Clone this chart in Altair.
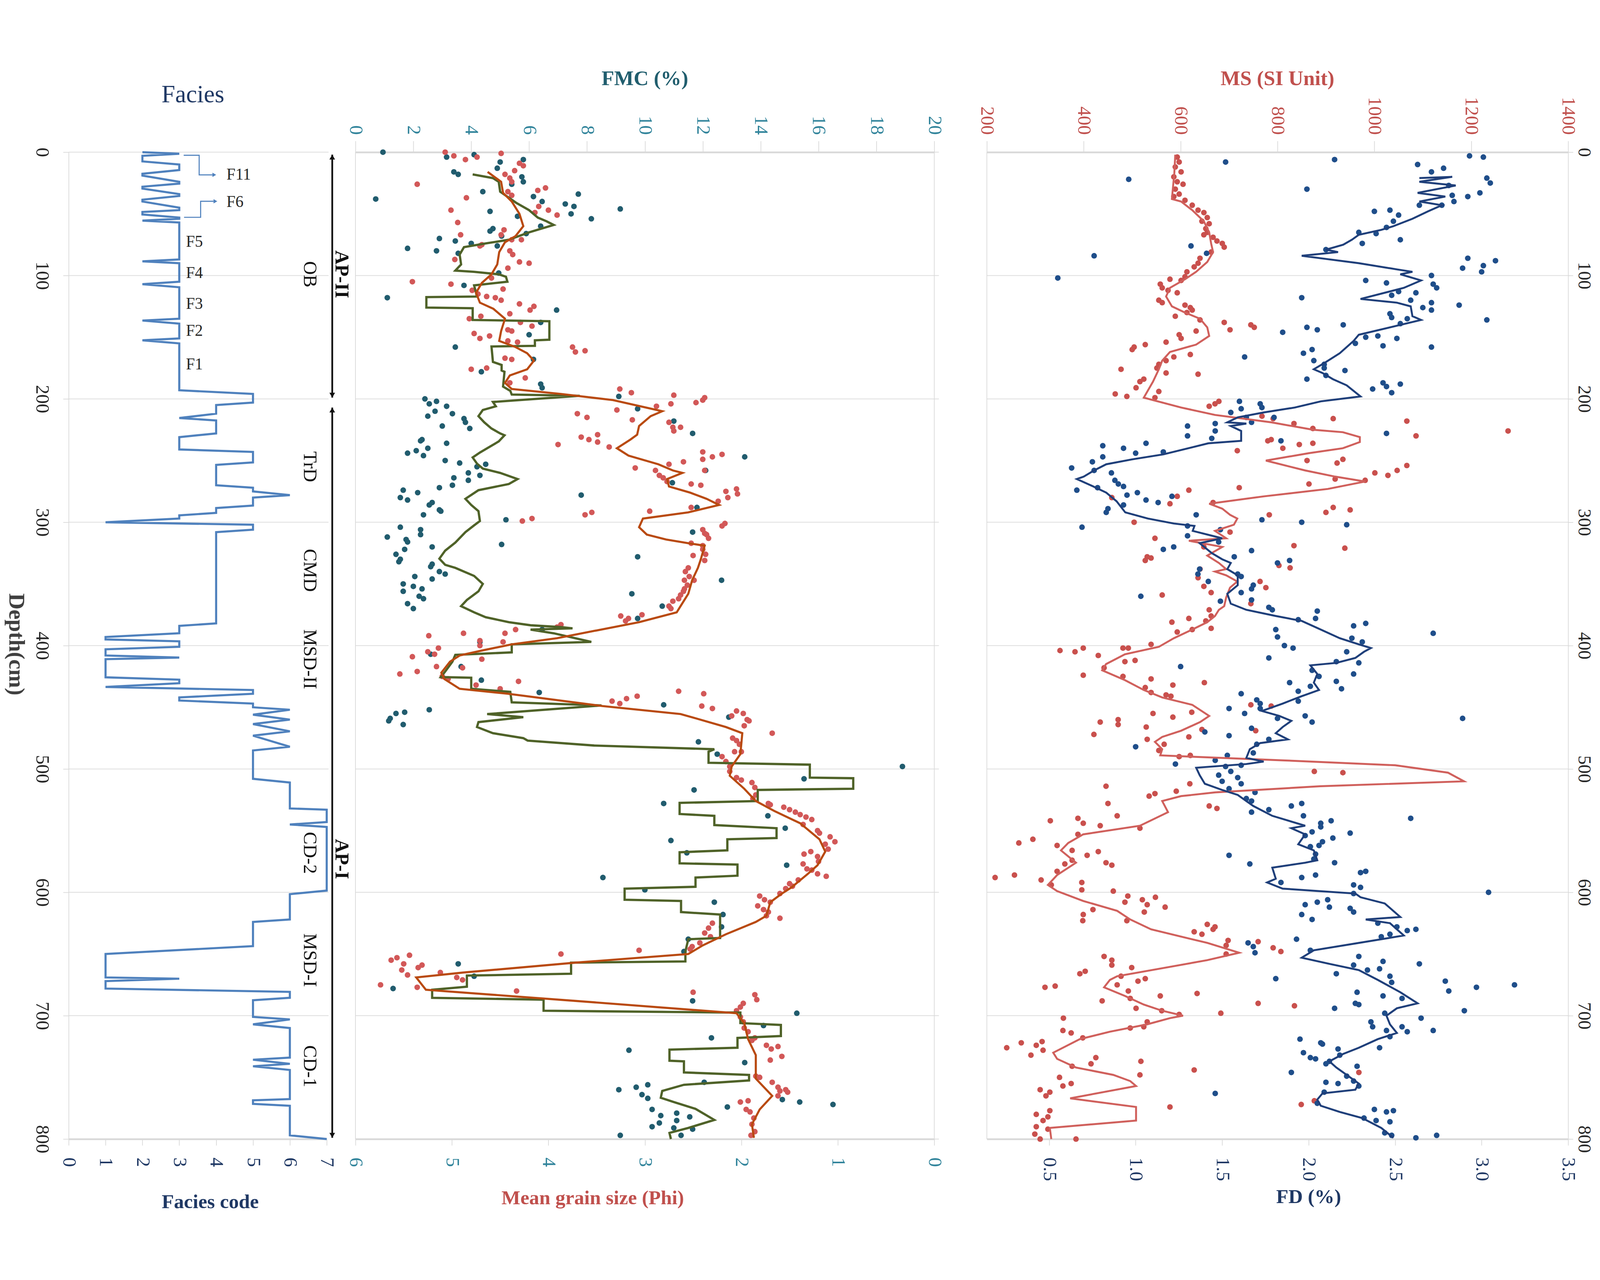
import altair as alt
import pandas as pd

FONT = "Liberation Serif"
GRID = "#D9D9D9"
NAVY = "#1F3864"
TEAL = "#31849B"
TEAL_DARK = "#215E6E"
RED = "#C0504D"

DEPTH_TICKS = list(range(0, 801, 100))
FACIES_TICKS = list(range(0, 8))
FMC_TICKS = list(range(0, 21, 2))
PHI_TICKS = list(range(0, 7))
MS_TICKS = list(range(200, 1401, 200))
FD_TICKS = [0.5, 1.0, 1.5, 2.0, 2.5, 3.0, 3.5]

# ---------------- Facies (depth, code) ----------------
facies_line = [
    (0, 2), (1.3, 3), (3, 2), (7.5, 2), (10, 3), (14.5, 3), (17.5, 2), (19, 2), (24, 3), (25.5, 3),
    (28, 2), (29.5, 2), (34, 3), (35.5, 3), (38.5, 2), (40, 2), (45, 3), (47, 3), (48.5, 2), (50.5, 2),
    (53, 3), (54, 3), (55.5, 2), (57, 3), (87, 3), (88.5, 2), (90, 3), (105, 3), (107, 2), (109.5, 3),
    (135, 3), (136.5, 2), (139, 3), (151, 3), (152.5, 2), (155, 3), (193, 3), (196, 5), (203, 5), (205, 4),
    (212, 4), (215.5, 3), (217.5, 4), (228, 4), (231, 3), (241, 3), (243, 5), (251.5, 5), (253.5, 4), (270, 4),
    (272, 5), (275, 5), (278, 6), (280, 5), (286.5, 5), (288.5, 4), (292.4, 4), (294.4, 3), (297, 3), (300, 1),
    (302, 5), (306, 5), (308, 4), (382, 4), (384, 3), (390, 3), (393, 1), (395, 1), (396.5, 3), (401, 3),
    (403, 1), (408, 1), (409.7, 3), (411, 1), (425.7, 1), (427.6, 3), (430.5, 3), (433.5, 1), (436, 5), (439, 5),
    (442, 3), (444.5, 3), (447, 5), (450, 5), (452, 6), (456, 5), (460, 6), (463.6, 5), (469.5, 6), (473, 5),
    (482, 6), (485, 5), (508, 5), (511, 6), (532, 6), (533, 7), (543, 7), (545, 6), (547, 7), (598.6, 7),
    (601.5, 6), (622, 6), (624, 5), (643.6, 5), (650, 1), (669, 1), (670, 3), (672, 1), (678, 1), (680.7, 6),
    (685.5, 6), (687.5, 5), (701, 5), (703, 6), (707, 5), (710, 6), (734, 6), (735.7, 5), (739, 6), (741, 5),
    (744, 6), (767.6, 6), (768.6, 5), (771.5, 5), (773, 6), (797, 6), (800, 7),
]
unit_labels = [("OB", 99), ("TrD", 255), ("CMD", 339), ("MSD-II", 411), ("CD-2", 568), ("MSD-I", 655), ("CD-1", 741)]
ap_labels = [("AP-II", 99), ("AP-I", 573)]
ap_ranges = [(2, 199), (207, 799)]
f_labels = [("F11", 4.28, 18.4), ("F6", 4.28, 40.5), ("F5", 3.18, 72.7), ("F4", 3.18, 98),
            ("F3", 3.18, 123), ("F2", 3.18, 145), ("F1", 3.18, 172)]
bracket_f11 = [(2.5, 3.12), (2.5, 3.54), (18.4, 3.54), (18.4, 3.9)]
bracket_f6 = [(52.8, 3.13), (52.8, 3.58), (39.8, 3.58), (39.8, 3.93)]

# ---------------- Panel 2 (depth, value) ----------------
fmc_points = [
    (0, 0.95), (4, 3.15), (2, 4.1), (8, 5.0), (13, 4.9), (6, 5.8), (16, 3.4), (18, 3.55), (20, 5.75), (24, 5.8),
    (26, 5.4), (38, 0.7), (32, 4.4), (36, 6.15), (40, 6.45), (42, 7.25), (44, 7.55), (34, 7.7), (50, 7.45), (54, 8.15),
    (46, 9.15), (48, 4.65), (52, 5.6), (60, 6.4), (66, 5.9), (62, 4.75), (64, 4.65), (68, 5.05), (70, 2.9), (72, 3.45),
    (74, 4.0), (78, 1.8), (80, 2.8), (82, 3.55), (76, 4.9), (98, 4.95), (108, 3.75), (118, 1.1), (128, 6.95), (138, 6.4),
    (148, 6.0), (158, 3.45), (168, 6.15), (178, 4.35), (188, 6.4), (191, 6.45), (198, 9.1),
    (200, 2.4), (202, 2.8), (204, 2.55), (206, 3.15), (210, 2.75), (212, 3.35), (214, 2.5), (216, 3.75), (219, 3.8), (222, 3.0),
    (224, 3.95), (233, 2.3), (234, 2.25), (236, 3.15), (240, 2.5), (242, 2.1), (244, 1.8), (246, 2.35), (250, 3.1), (252, 3.6),
    (253, 4.5), (255, 4.2), (260, 3.9), (262, 4.3), (264, 3.4), (266, 3.9), (270, 3.35), (272, 2.9), (274, 1.65), (276, 2.15),
    (280, 1.55), (282, 1.8), (284, 2.65), (286, 2.55), (290, 2.9), (291, 2.95), (294, 2.35), (298, 5.2), (278, 7.8), (318, 5.05),
    (304, 1.55), (312, 1.1), (314, 1.75), (316, 1.8), (322, 1.7), (326, 1.4), (330, 1.55), (332, 1.5), (306, 2.25), (310, 2.25),
    (320, 2.65), (334, 2.65), (336, 2.6), (340, 2.9), (342, 3.1), (346, 2.65), (344, 2.05), (350, 1.65), (356, 1.65), (352, 2.0),
    (354, 2.3), (360, 2.2), (362, 2.35), (366, 1.8), (370, 2.0), (328, 9.75), (358, 9.55), (368, 10.6), (347, 12.65), (288, 11.8),
    (308, 11.65), (258, 12.1), (228, 11.65), (268, 10.95), (218, 11.0), (247, 13.45), (378, 9.75), (208, 9.75), (397, 4.3), (387, 6.45),
    (407, 2.6), (417, 3.65), (428, 4.35), (438, 6.35), (461, 1.15), (459, 1.2), (455, 1.4), (454, 1.7), (464, 1.65), (452, 2.55),
    (448, 10.65), (458, 12.9), (478, 11.85), (488, 12.5), (498, 18.9), (508, 15.5), (517, 11.7), (528, 10.65), (538, 14.25), (548, 14.85),
    (558, 10.9), (568, 11.45), (578, 14.9), (588, 8.55), (598, 10.0), (608, 12.4), (618, 12.7), (628, 12.65), (638, 11.5), (648, 11.35),
    (658, 3.55), (668, 4.1), (678, 1.3), (688, 11.65), (698, 15.25), (708, 14.1), (718, 12.3), (728, 9.45), (738, 13.45), (754, 12.05),
    (760, 9.1), (758, 9.7), (756, 10.1), (764, 9.9), (767, 10.1), (768, 14.75), (770, 15.35), (772, 16.5), (774, 12.85), (776, 10.25),
    (781, 10.55), (787, 10.5), (779, 11.1), (785, 11.1), (782, 11.55), (791, 11.0), (792, 11.65), (790, 10.25), (797, 9.15), (797, 11.25),
]
grain_points = [
    (0, 5.07), (3, 4.98), (6, 4.86), (4, 4.74), (1, 4.49), (9, 4.30), (11, 4.26), (15, 4.35), (18, 4.45), (21, 4.40),
    (24, 4.38), (32, 4.42), (35, 4.38), (26, 5.36), (37, 4.85), (47, 5.01), (31, 4.11), (29, 4.03), (44, 4.10), (49, 4.14),
    (47, 4.0), (51, 3.91), (57, 4.94), (67, 4.91), (63, 4.46), (67, 4.49), (71, 4.38), (71, 4.28), (75, 4.69), (76, 4.71),
    (80, 4.40), (83, 4.37), (87, 4.97), (89, 4.30), (90, 4.20), (94, 4.42), (102, 4.59), (111, 4.47), (105, 5.41), (107, 5.01),
    (112, 4.79), (115, 4.73), (117, 4.64), (118, 4.55), (120, 4.49), (123, 4.30), (125, 4.15), (128, 4.19), (131, 4.40), (133, 4.70),
    (135, 4.82), (138, 4.29), (141, 4.17), (144, 4.42), (145, 4.38), (147, 4.77), (151, 4.71), (149, 4.61), (153, 4.42), (154, 4.32),
    (158, 3.75), (162, 3.72), (161, 3.62), (167, 4.45), (168, 4.38), (176, 4.80), (175, 4.64), (183, 4.24), (187, 4.40),
    (192, 3.26), (195, 3.14), (197, 2.70), (199, 2.38), (201, 2.40), (203, 2.47), (206, 2.88), (204, 2.73), (212, 3.70), (215, 3.60),
    (209, 3.29), (217, 3.13), (219, 2.75), (223, 2.71), (223, 2.63), (226, 2.70), (231, 3.66), (233, 3.58), (229, 3.49), (235, 3.49),
    (239, 3.37), (237, 3.90), (243, 2.40), (247, 2.30), (245, 2.20), (249, 2.40), (251, 2.60), (256, 3.10), (258, 2.89), (262, 2.85),
    (264, 2.81), (267, 2.77), (253, 2.75), (258, 2.38), (269, 2.52), (270, 2.42), (273, 2.05), (275, 2.16), (277, 2.04), (280, 2.14),
    (283, 2.24), (291, 2.95), (294, 3.62), (292, 3.55), (299, 4.27), (297, 4.17), (288, 2.52), (306, 2.40), (309, 2.38), (310, 2.36),
    (313, 2.34), (303, 2.20), (301, 2.17), (317, 2.52), (319, 2.40), (322, 2.40), (326, 2.37), (327, 2.50), (331, 2.38), (337, 2.55),
    (340, 2.58), (344, 2.54), (347, 2.49), (347, 2.59), (351, 2.56), (354, 2.59), (356, 2.60), (359, 2.63), (362, 2.65), (364, 2.71),
    (368, 2.75), (370, 2.73), (376, 3.25), (378, 3.17), (380, 3.20), (375, 3.03), (385, 3.91), (383, 3.87), (387, 4.34), (390, 4.45),
    (390, 4.88), (392, 5.24), (396, 4.71), (397, 4.47),
    (400, 4.71), (409, 5.41), (405, 5.25), (402, 5.14), (407, 5.18), (423, 5.54), (421, 5.36), (417, 5.16), (418, 4.89), (425, 5.10),
    (427, 5.04), (411, 4.69), (429, 4.31), (435, 4.50), (432, 4.75), (445, 3.34), (447, 3.26), (443, 3.19), (441, 3.08), (437, 2.65),
    (439, 2.39), (449, 2.41), (451, 2.30), (453, 2.05), (455, 1.98), (460, 1.94), (465, 1.97), (457, 2.10), (461, 1.92), (471, 1.68),
    (475, 2.09), (477, 2.05), (480, 2.02), (486, 2.0), (486, 2.07), (490, 2.20), (494, 2.16), (498, 2.12), (502, 2.12), (507, 2.05),
    (509, 2.0), (511, 1.89), (515, 1.86), (521, 1.85), (524, 1.88), (528, 1.72), (529, 1.70), (531, 1.56), (533, 1.50), (535, 1.44),
    (537, 1.39), (539, 1.33), (541, 1.27), (545, 1.36), (550, 1.21), (552, 1.19), (555, 1.08), (559, 1.03), (561, 1.13), (565, 1.10),
    (569, 1.35), (567, 1.28), (571, 1.21), (575, 1.20), (577, 1.36), (581, 1.32), (582, 1.27), (585, 1.21), (587, 1.12), (593, 1.50),
    (595, 1.47), (597, 1.54), (601, 1.60), (590, 1.41), (603, 1.81), (606, 1.76), (608, 1.70), (611, 1.83), (614, 1.77), (616, 1.72),
    (619, 1.74), (621, 1.60), (625, 2.30), (629, 2.34), (633, 2.38), (636, 2.32), (641, 2.43), (644, 2.51), (646, 2.53), (647, 3.06),
    (650, 3.87), (655, 5.63), (653, 5.57), (651, 5.44), (658, 5.50), (661, 5.35), (659, 5.31), (663, 5.52), (667, 5.46), (665, 5.12),
    (669, 4.95), (671, 4.89), (675, 5.74), (677, 5.36), (680, 4.33), (681, 2.50), (683, 1.86), (687, 1.84), (690, 1.98), (693, 2.01),
    (696, 2.05), (701, 2.01), (705, 1.98), (710, 1.97), (713, 1.93), (720, 1.89), (718, 1.86), (724, 1.74), (727, 1.69), (725, 1.62),
    (733, 1.58), (736, 1.70), (749, 1.85), (750, 1.81), (754, 1.68), (758, 1.62), (761, 1.60), (760, 1.54), (762, 1.52), (765, 1.62),
    (770, 2.01), (769, 1.93), (776, 1.95), (778, 1.91), (783, 1.87), (788, 1.89), (794, 1.86), (797, 1.90),
]
fmc_line = [
    (18, 4.05), (21, 4.75), (24, 4.95), (32, 5.0), (41, 5.55), (47, 6.0), (53, 6.3), (56, 6.6), (59, 6.85), (65, 6.0),
    (71, 5.3), (74, 4.5), (77, 3.75), (83, 3.6), (91, 3.65), (96, 3.45), (97, 4.1), (99, 4.95), (101, 5.2), (105, 5.25),
    (108, 4.1), (117, 4.2), (117.5, 2.45), (126, 2.45), (126.5, 4.05), (136, 4.05), (137, 6.7), (152, 6.7), (152.5, 6.2), (157, 6.2),
    (157.5, 4.7), (170, 4.75), (172.5, 5.05), (177, 5.05), (178, 5.15), (190, 5.1), (193.5, 5.35), (196.5, 5.4), (197.5, 7.75), (202.5, 4.75),
    (206, 4.85), (209, 4.4), (214, 4.25), (219, 4.45), (224, 4.7), (228, 5.0), (229.5, 5.15), (234.5, 4.95), (240, 4.55), (243.5, 4.3),
    (247.5, 4.05), (252.5, 4.2), (256.5, 4.4), (260, 5.0), (265, 5.6), (269, 5.3), (274, 4.25), (281, 3.8), (286, 4.0), (291, 4.25),
    (299, 4.3), (302.5, 4.1), (308, 3.8), (316.5, 3.45), (323, 3.1), (329.5, 2.9), (334.5, 3.1), (337, 3.45), (343.5, 4.1), (350, 4.4),
    (356, 4.25), (363, 3.85), (368, 3.65), (373, 4.1), (377, 4.5), (381, 5.3), (383.5, 6.05), (385, 7.1), (386, 7.5), (387, 6.05),
    (390, 6.85), (397, 8.15), (399, 5.4), (405.5, 5.4), (407.5, 3.45), (413, 3.35), (421, 3.1), (425.5, 2.95), (426, 4.0), (435, 4.0),
    (437.5, 5.35), (446, 5.4), (448.5, 8.5), (455.5, 4.55), (458, 5.8), (462, 4.25), (466, 4.2), (471, 4.75), (475, 5.8), (477, 5.95),
    (481, 8.25), (484, 12.4), (486, 12.2), (495, 12.2), (496.5, 15.7), (507, 15.7), (507.5, 17.2), (516, 17.2), (517, 13.9), (526, 13.9),
    (527.5, 11.2), (536.5, 11.2), (538, 12.4), (545.5, 12.4), (548, 14.55), (556, 14.55), (557, 12.85), (566, 12.85), (567.5, 11.2), (576.5, 11.2),
    (577.5, 13.2), (586.5, 13.2), (588, 11.75), (595.5, 11.75), (597, 9.3), (606, 9.3), (607, 11.25), (616, 11.25), (618, 12.6), (637, 12.6),
    (638, 11.5), (648, 11.4), (656, 11.4), (657, 7.45), (666, 7.45), (667.5, 3.85), (676.5, 3.85), (679, 2.65), (685.5, 2.65), (687, 6.5),
    (696, 6.5), (697.5, 13.3), (706, 13.3), (707.5, 14.7), (716.5, 14.7), (718, 13.2), (726, 13.2), (727.5, 10.85), (736.5, 10.85), (737, 11.35),
    (746, 11.35), (748, 13.6), (752.5, 13.6), (756, 11.35), (761, 10.6), (766.5, 10.55), (770, 11.0), (775.5, 11.75), (784.5, 12.4), (791, 11.5),
    (795, 10.85), (800, 10.9),
]
grain_line = [
    (16, 4.63), (24, 4.49), (33, 4.47), (40, 4.38), (50, 4.30), (60, 4.26), (68, 4.34), (73, 4.45), (81, 4.51), (91, 4.53),
    (99, 4.59), (106, 4.69), (114, 4.75), (122, 4.71), (127, 4.57), (135, 4.45), (145, 4.49), (153, 4.51), (158, 4.34), (163, 4.22),
    (169, 4.15), (176, 4.22), (181, 4.40), (187, 4.45), (192, 4.38), (196, 3.87), (201, 3.33), (210, 2.82), (214, 2.94), (222, 3.06),
    (229, 3.08), (233, 3.15), (240, 3.29), (246, 3.17), (253, 2.86), (258, 2.71), (260, 2.61), (265, 2.77), (271, 2.75), (276, 2.53),
    (281, 2.36), (286, 2.23), (292, 2.55), (297, 3.02), (304, 3.06), (310, 2.98), (314, 2.78), (317, 2.55), (319, 2.38), (330, 2.42),
    (337, 2.45), (347, 2.51), (358, 2.55), (368, 2.63), (373, 2.67), (381, 3.06), (388, 3.52), (394, 3.91), (399, 4.38), (404, 4.69),
    (408, 4.92), (413, 5.02), (422, 5.11), (427, 5.08), (435, 4.92), (439, 4.42), (449, 3.44), (455.5, 2.63), (459, 2.47), (466, 2.16),
    (471, 1.99), (488, 2.01), (498, 2.10), (505.5, 2.12), (516, 1.97), (526, 1.85), (534, 1.66), (544, 1.39), (557, 1.19), (567, 1.13),
    (578, 1.21), (585, 1.31), (596, 1.48), (601, 1.58), (608, 1.70), (619, 1.74), (624, 1.85), (634, 2.16), (643, 2.40), (650, 2.55),
    (657, 3.72), (665, 4.88), (669, 5.37), (675, 5.31), (679, 5.27), (688, 3.72), (698, 2.05), (706, 1.97), (719, 1.93), (732, 1.85),
    (751, 1.85), (765, 1.68), (776, 1.81), (788, 1.89), (799, 1.87),
]

# ---------------- Panel 3 (depth, value) ----------------
ms_points = [
    (4, 593), (8, 597), (12, 589), (16, 601), (20, 586), (24, 593), (26, 605), (30, 589), (34, 597), (36, 586),
    (39, 609), (43, 624), (47, 636), (49, 648), (53, 655), (56, 644), (58, 659), (62, 652), (65, 655), (67, 648),
    (69, 667), (72, 675), (74, 686), (77, 690), (81, 663), (86, 640), (90, 636), (93, 628), (97, 613), (101, 609),
    (104, 601), (103, 578), (107, 558), (110, 562), (112, 574), (114, 593), (120, 555), (122, 562), (124, 609), (126, 620),
    (128, 624), (130, 613), (133, 589), (136, 640), (138, 690), (144, 702), (140, 745), (142, 752), (145, 632), (148, 597),
    (151, 601), (154, 570), (156, 527), (158, 504), (160, 500), (164, 620), (166, 586), (169, 570), (172, 555), (175, 551),
    (179, 570), (180, 636), (176, 477), (184, 524), (186, 516), (191, 508), (194, 555), (196, 465), (198, 489), (199, 547),
    (206, 659), (202, 679), (204, 671), (214, 768), (216, 791), (220, 834), (224, 873), (216, 915), (218, 1067), (230, 1086),
    (226, 1276), (234, 780), (233, 787), (240, 811), (237, 845), (236, 873), (242, 717), (250, 861), (252, 923), (249, 935),
    (265, 919), (269, 865), (260, 1001), (262, 1028), (258, 1047), (254, 1067), (266, 981), (272, 721), (274, 617), (279, 593),
    (280, 458), (285, 578), (284, 667), (294, 783), (292, 900), (288, 915), (290, 950), (300, 504), (308, 702), (313, 547),
    (320, 648), (319, 834), (321, 939), (328, 531), (329, 539), (331, 527), (335, 803), (337, 826), (338, 640), (345, 636),
    (352, 648), (357, 663), (359, 562), (348, 764), (353, 776), (366, 745), (371, 659), (376, 663), (380, 652), (378, 617),
    (381, 582), (387, 624), (389, 593), (386, 663), (399, 539),
    (402, 399), (402, 492), (404, 351), (405, 382), (408, 430), (402, 481), (413, 485), (412, 506), (418, 442), (424, 399),
    (425, 481), (427, 539), (432, 584), (430, 649), (434, 527), (438, 539), (440, 570), (441, 580), (448, 745), (449, 787),
    (455, 543), (458, 584), (454, 623), (462, 434), (460, 471), (464, 471), (466, 529), (472, 421), (468, 644), (469, 755),
    (474, 617), (476, 531), (480, 566), (485, 555), (490, 597), (489, 620), (502, 876), (503, 935), (512, 619), (514, 446),
    (522, 535), (520, 547), (518, 591), (528, 450), (538, 469), (530, 659), (532, 675), (542, 331), (540, 388), (544, 399),
    (546, 434), (548, 516), (553, 388), (560, 266), (557, 295), (562, 345), (566, 376), (570, 407), (567, 430), (576, 446),
    (578, 458), (574, 376), (577, 361), (583, 345), (588, 217), (586, 257), (590, 312), (594, 333), (592, 396), (598, 396),
    (599, 461), (603, 491), (606, 521), (604, 548), (608, 485), (610, 531), (612, 568), (614, 419), (616, 525), (618, 399),
    (623, 398), (623, 489), (632, 628), (626, 655), (628, 671), (634, 644), (630, 667), (639, 698), (643, 694), (640, 760),
    (645, 791), (648, 807), (650, 694), (652, 442), (655, 458), (659, 458), (661, 499), (664, 403), (666, 392), (668, 477),
    (670, 527), (672, 512), (677, 320), (676, 341), (675, 469), (680, 492), (684, 558), (682, 634), (688, 438), (686, 496),
    (694, 508), (696, 561), (690, 760), (692, 835), (698, 683), (699, 597), (702, 358), (705, 531), (709, 524), (710, 496),
    (712, 357), (714, 374), (718, 398), (726, 241), (722, 271), (724, 302), (721, 314), (732, 291), (728, 316), (734, 425),
    (739, 415), (737, 518), (741, 376), (755, 374), (750, 350), (757, 357), (748, 516), (744, 628), (746, 968), (760, 310),
    (762, 330), (765, 322), (774, 578), (780, 302), (777, 330), (782, 326), (785, 316), (790, 302), (792, 326), (796, 299),
    (800, 310), (800, 384), (772, 849), (769, 876),
]
ms_line = [
    (2, 589), (17, 587), (38, 582), (40, 601), (47, 624), (56, 648), (65, 659), (74, 663), (81, 667), (89, 655),
    (97, 632), (103, 609), (110, 578), (117, 570), (125, 582), (130, 609), (135, 640), (142, 655), (149, 659), (156, 632),
    (162, 578), (169, 562), (176, 555), (186, 543), (199, 524), (207, 601), (213, 671), (219, 787), (225, 873), (227, 935),
    (231, 970), (235, 970), (240, 935), (244, 865), (250, 776), (258, 857), (263, 919), (267, 981), (273, 904), (279, 772),
    (285, 659), (289, 686), (294, 702), (297, 717), (302, 710), (307, 671), (313, 694), (315, 617), (320, 686), (327, 655),
    (333, 679), (338, 694), (340, 671), (343, 694), (348, 717), (353, 702), (361, 694), (368, 690), (371, 679), (376, 671),
    (381, 655), (387, 624), (394, 586), (401, 555), (407, 485), (415, 446), (420, 438), (428, 485), (436, 524), (442, 562),
    (448, 624), (457, 659), (462, 640), (469, 601), (474, 562), (478, 547), (484, 562), (489, 558), (493, 811), (497, 1043),
    (503, 1152), (510, 1185), (514, 888), (519, 671), (522, 601), (526, 562), (535, 574), (546, 516), (553, 399), (560, 368),
    (566, 353), (576, 384), (586, 345), (594, 326), (599, 345), (607, 399), (615, 469), (622, 496), (630, 539), (641, 655),
    (649, 721), (655, 655), (662, 555), (668, 469), (671, 454), (677, 442), (684, 485), (691, 524), (696, 562), (700, 605),
    (702, 578), (707, 531), (713, 454), (719, 392), (730, 337), (735, 345), (742, 384), (748, 461), (753, 496), (757, 508),
    (767, 372), (774, 508), (785, 508), (791, 330), (800, 333),
]
fd_points = [
    (8, 1.52), (6, 2.15), (22, 0.96), (30, 1.99), (10, 2.63), (16, 2.71), (13, 2.78), (3, 2.93), (4, 3.01), (21, 3.03),
    (25, 3.05), (27, 2.81), (35, 2.83), (40, 2.84), (43, 2.77), (36, 2.92), (33, 2.99), (43, 2.64), (48, 2.38), (47, 2.47),
    (51, 2.52), (56, 2.49), (61, 2.45), (65, 2.29), (66, 2.39), (71, 2.53), (74, 2.31), (79, 2.10), (76, 1.32), (82, 1.41),
    (84, 0.76), (86, 2.92), (92, 3.01), (97, 3.0), (88, 3.08), (94, 2.89), (100, 2.71), (102, 0.55), (104, 2.33), (106, 2.45),
    (107, 2.72), (110, 2.74), (113, 2.52), (116, 2.48), (114, 2.62), (118, 1.96), (120, 2.59), (122, 2.71), (126, 2.66), (128, 2.71),
    (124, 2.87), (131, 2.47), (134, 2.48), (135, 2.57), (139, 2.53), (136, 3.03), (140, 2.20), (142, 1.99), (144, 2.05), (146, 1.85),
    (150, 2.33), (149, 2.40), (151, 2.51), (155, 2.27), (157, 2.43), (158, 2.71), (160, 2.02), (163, 1.97), (169, 2.03), (166, 1.63),
    (172, 2.09), (175, 2.09), (177, 2.21), (181, 2.10), (184, 1.99), (192, 2.37), (187, 2.43), (190, 2.45), (195, 2.48), (188, 2.53),
    (202, 1.60), (208, 1.61), (204, 1.72), (207, 1.73), (211, 1.55), (215, 1.64), (219, 1.67), (215, 1.80), (220, 1.46), (222, 1.30),
    (230, 1.30), (226, 1.46), (232, 1.44), (234, 1.84), (228, 2.45), (236, 1.06), (243, 1.16), (244, 1.0), (240, 0.93), (238, 0.81),
    (247, 0.81), (251, 0.75), (256, 0.63), (258, 0.76), (260, 0.86), (266, 0.88), (269, 0.90), (271, 0.93), (274, 0.66), (272, 0.78),
    (278, 0.95), (276, 1.01), (282, 1.06), (284, 1.13), (279, 1.21), (286, 0.93), (289, 0.84), (292, 0.83), (304, 0.69), (294, 1.35),
    (298, 1.73), (300, 1.96), (302, 2.22), (303, 1.30), (311, 1.30), (306, 1.49), (316, 1.48), (322, 1.16), (320, 1.22), (323, 1.67),
    (328, 1.57), (333, 1.82), (331, 1.89), (338, 1.37), (342, 1.36), (342, 1.59), (344, 1.61), (351, 1.68), (354, 1.67), (357, 1.61),
    (348, 1.42), (360, 1.03), (364, 1.49), (363, 1.67), (369, 1.77), (371, 1.79), (372, 2.05), (378, 2.04), (379, 1.94), (384, 2.26),
    (382, 2.33), (387, 1.81), (393, 1.82), (390, 2.72), (394, 2.25), (397, 2.31),
    (400, 1.86), (402, 1.91), (405, 2.22), (410, 1.77), (413, 2.16), (414, 2.29), (417, 1.26), (420, 2.02), (425, 2.06), (423, 2.26),
    (430, 1.89), (429, 2.16), (435, 2.19), (437, 1.94), (433, 2.01), (439, 1.61), (444, 1.70), (451, 1.54), (455, 1.63), (451, 1.72),
    (447, 1.72), (445, 1.94), (457, 1.98), (462, 2.02), (459, 1.82), (467, 1.67), (470, 1.40), (473, 1.54), (476, 1.77), (480, 1.70),
    (482, 1.0), (487, 1.68), (489, 1.53), (493, 1.46), (498, 1.52), (496, 1.23), (497, 1.61), (505, 1.48), (502, 1.55), (510, 1.50),
    (507, 1.59), (512, 1.61), (516, 1.54), (519, 1.69), (524, 1.64), (526, 1.67), (533, 1.77), (535, 1.67), (530, 1.90), (528, 1.96),
    (459, 2.89), (540, 2.59), (538, 1.97), (544, 2.07), (542, 2.13), (547, 2.07), (551, 2.02), (552, 2.24), (554, 1.98), (556, 2.14),
    (559, 2.08), (562, 2.06), (563, 2.01), (569, 2.04), (573, 2.03), (570, 1.54), (577, 1.66), (576, 2.15), (586, 2.04), (588, 1.96),
    (592, 1.84), (583, 2.33), (584, 2.30), (594, 2.26), (596, 2.30), (601, 2.26), (600, 3.04), (610, 1.98), (608, 2.05), (606, 2.11),
    (612, 2.12), (618, 1.96), (622, 2.02), (613, 2.24), (616, 2.26), (625, 2.40), (628, 2.51), (631, 2.57), (630, 2.62), (634, 2.47),
    (636, 2.42), (641, 1.65), (644, 1.68), (649, 1.69), (638, 1.93), (647, 2.01), (652, 2.29), (659, 2.26), (656, 2.43), (663, 2.34),
    (662, 2.41), (658, 2.64), (666, 2.16), (668, 2.47), (673, 2.48), (670, 1.81), (672, 2.79), (680, 2.81), (677, 2.97), (675, 3.19),
    (681, 2.28), (684, 2.43), (686, 2.54), (690, 2.27), (691, 2.29), (694, 2.15), (696, 2.90), (698, 2.44), (702, 2.65), (705, 2.36),
    (709, 2.37), (712, 2.45), (709, 2.54), (713, 2.57), (712, 2.72), (717, 2.47), (719, 1.95), (722, 2.07), (723, 2.08), (726, 2.41),
    (730, 1.97), (734, 2.01), (735, 2.04), (737, 2.12), (727, 2.17), (732, 2.18), (739, 2.10), (741, 2.28), (746, 1.90), (749, 2.22),
    (753, 2.26), (757, 2.29), (754, 2.10), (755, 2.17), (762, 2.09), (763, 1.46), (771, 2.05), (776, 2.38), (778, 2.45), (777, 2.49),
    (783, 2.32), (785, 2.39), (786, 2.47), (795, 2.44), (797, 2.48), (799, 2.62), (797, 2.74),
]
fd_line = [
    (21, 2.64), (20, 2.83), (24, 2.64), (27, 2.85), (33, 2.63), (36, 2.79), (40, 2.64), (43, 2.77), (48, 2.69), (54, 2.60),
    (60, 2.49), (63, 2.42), (67, 2.29), (71, 2.25), (75, 2.20), (79, 2.10), (81, 2.17), (84, 1.96), (86, 2.07), (90, 2.29),
    (95, 2.51), (97, 2.60), (99, 2.53), (104, 2.65), (110, 2.55), (119, 2.30), (122, 2.51), (125, 2.59), (133, 2.60), (136, 2.65),
    (142, 2.47), (148, 2.29), (153, 2.26), (163, 2.18), (171, 2.09), (176, 2.03), (179, 2.08), (184, 2.14), (189, 2.22), (198, 2.30),
    (202, 2.07), (207, 1.92), (211, 1.74), (215, 1.59), (219, 1.53), (220, 1.64), (222, 1.55), (226, 1.61), (234, 1.61), (236, 1.42),
    (245, 1.16), (249, 0.98), (253, 0.83), (258, 0.76), (263, 0.70), (265, 0.66), (270, 0.74), (276, 0.83), (283, 0.89), (292, 0.94),
    (297, 1.07), (301, 1.22), (303, 1.34), (307, 1.33), (313, 1.50), (317, 1.37), (325, 1.44), (330, 1.50), (333, 1.55), (338, 1.53),
    (343, 1.59), (351, 1.59), (358, 1.53), (366, 1.55), (371, 1.64), (376, 1.81), (380, 1.96), (387, 2.07), (394, 2.18), (399, 2.29),
    (402, 2.36), (405, 2.32), (410, 2.27), (414, 2.16), (416, 2.01), (423, 2.05), (430, 2.03), (436, 2.06), (441, 1.96), (447, 1.85),
    (453, 1.73), (457, 1.83), (461, 1.90), (466, 1.85), (471, 1.81), (476, 1.88), (479, 1.72), (484, 1.66), (491, 1.64), (494, 1.74),
    (496, 1.64), (499, 1.35), (505, 1.37), (512, 1.40), (517, 1.50), (521, 1.59), (530, 1.68), (538, 1.79), (546, 1.98), (548, 1.90),
    (553, 1.98), (561, 1.94), (566, 2.03), (574, 2.05), (576, 1.98), (580, 1.79), (589, 1.81), (592, 1.76), (597, 1.85), (601, 2.27),
    (604, 2.30), (609, 2.44), (620, 2.53), (622, 2.33), (625, 2.47), (635, 2.55), (641, 2.29), (647, 2.03), (653, 1.96), (658, 2.12),
    (663, 2.29), (671, 2.40), (681, 2.53), (690, 2.63), (694, 2.51), (700, 2.45), (707, 2.47), (714, 2.51), (719, 2.40), (726, 2.29),
    (731, 2.20), (737, 2.12), (742, 2.16), (748, 2.22), (755, 2.29), (760, 2.27), (763, 2.08), (768, 2.05), (773, 2.07), (778, 2.18),
    (783, 2.31), (791, 2.42), (799, 2.49),
]

# Titles: (text, x value in its panel scale, depth position, size, weight, colour, angle)
facies_titles = [("Facies", 3.37, -40.3, 70, "normal", NAVY, 0),
                 ("Facies code", 3.84, 856, 57, "bold", NAVY, 0),
                 ("Depth(cm)", -1.43, 399, 64, "bold", "#404040", 90)]
fmc_titles = [("FMC (%)", 10.0, -54.5, 59, "bold", TEAL_DARK, 0)]
phi_titles = [("Mean  grain size (Phi)", 3.54, 853, 57, "bold", RED, 0)]
ms_titles = [("MS (SI Unit)", 800, -54.5, 59, "bold", RED, 0)]
fd_titles = [("FD (%)", 2.0, 852, 57, "bold", NAVY, 0)]

# ---------------- layout ----------------
H = 2816
W = 4277
R1 = [0, 736]        # facies panel
R2 = [818, 2469]     # FMC / grain size panel
R3 = [2619, 4277]    # MS / FD panel
PT = 260


def frame(pairs, vname="v"):
    df = pd.DataFrame(pairs, columns=["depth", vname])
    df["i"] = range(len(df))
    return df


depth_scale = alt.Scale(domain=[0, 800], reverse=True, nice=False, zero=False)
common_label = dict(labelFont=FONT, labelFontSize=54, labelFlush=False, labelOverlap=False, labelAngle=90)

Y_NONE = alt.Y("depth:Q", scale=depth_scale, axis=None)
Y_LEFT = alt.Y("depth:Q", scale=depth_scale, axis=alt.Axis(
    orient="left", values=DEPTH_TICKS, grid=False, ticks=True, tickSize=16, tickColor=GRID, tickWidth=2,
    domain=True, domainColor=GRID, domainWidth=2, labelAlign="center", labelBaseline="top", labelPadding=34,
    labelColor="#262626", title=None, **common_label))
Y_RIGHT = alt.Y("depth:Q", scale=depth_scale, axis=alt.Axis(
    orient="right", values=DEPTH_TICKS, grid=False, ticks=True, tickSize=14, tickColor=GRID, tickWidth=2,
    domain=True, domainColor=GRID, domainWidth=2, labelAlign="center", labelBaseline="bottom", labelPadding=4,
    labelColor="#262626", title=None, labelFont=FONT, labelFontSize=52, labelFlush=False, labelOverlap=False,
    labelAngle=90))


def x_axis(orient, values, label_color, fmt=None):
    top = orient == "top"
    kw = dict(orient=orient, values=values, grid=False, ticks=True, tickSize=32 if top else 18, tickColor=GRID,
              tickWidth=2, domain=True, domainColor=GRID, domainWidth=5, labelColor=label_color,
              labelPadding=18 if top else 34, labelAlign="right" if top else "left", labelBaseline="middle",
              title=None, **common_label)
    if fmt:
        kw["format"] = fmt
    return alt.Axis(**kw)


def X(field, domain, rng, axis=None):
    return alt.X(field, scale=alt.Scale(domain=domain, range=rng, nice=False, zero=False), axis=axis)


def titles(rows, x_enc, y_enc, vname):
    out = []
    for t, xv, d, size, weight, color, ang in rows:
        df = pd.DataFrame({vname: [xv], "depth": [d], "t": [t]})
        out.append(alt.Chart(df).mark_text(font=FONT, fontSize=size, fontWeight=weight, color=color, angle=ang,
                                           align="center", baseline="middle" if ang else "alphabetic").encode(
            x=x_enc, y=y_enc, text="t:N"))
    return out


def grid_rules(x_enc, lo, hi, vname, depths):
    df = pd.DataFrame({"depth": depths, vname: lo, vname + "2": hi})
    return alt.Chart(df).mark_rule(color=GRID, strokeWidth=2).encode(x=x_enc, x2=f"{vname}2:Q", y=Y_NONE)


def border_rules(x_enc, vals, vname):
    df = pd.DataFrame({vname: vals, "depth": 0, "depth2": 800})
    return alt.Chart(df).mark_rule(color=GRID, strokeWidth=2).encode(x=x_enc, y=Y_NONE, y2="depth2:Q")


# ---------------- Panel 1: facies ----------------
x1 = X("code:Q", [0, 7], R1, x_axis("bottom", FACIES_TICKS, NAVY))
fac = alt.Chart(frame(facies_line, "code")).mark_line(color="#4F81BD", strokeWidth=6).encode(
    x=x1, y=Y_LEFT, order="i:Q")

units_df = pd.DataFrame({"t": [u[0] for u in unit_labels], "depth": [u[1] for u in unit_labels]})
units_df["code"] = 6.53
units = alt.Chart(units_df).mark_text(angle=90, align="center", baseline="middle", font=FONT,
                                       fontSize=54, color="#111111").encode(x=x1, y=Y_LEFT, text="t:N")

apl_df = pd.DataFrame({"t": [a[0] for a in ap_labels], "depth": [a[1] for a in ap_labels]})
apl_df["code"] = 7.4
apl = alt.Chart(apl_df).mark_text(angle=90, align="center", baseline="middle", font=FONT, fontSize=56,
                                   fontWeight="bold", color="#111111").encode(x=x1, y=Y_LEFT, text="t:N")

apr_df = pd.DataFrame({"depth": [a[0] for a in ap_ranges], "depth2": [a[1] for a in ap_ranges]})
apr_df["code"] = 7.15
apr = alt.Chart(apr_df).mark_rule(color="#111111", strokeWidth=5).encode(x=x1, y=Y_LEFT, y2="depth2:Q")
heads_df = pd.DataFrame({"depth": [4, 197, 209, 797], "code": 7.15,
                         "s": ["triangle-up", "triangle-down", "triangle-up", "triangle-down"]})
heads = alt.Chart(heads_df).mark_point(filled=True, size=260, color="#111111", opacity=1).encode(
    x=x1, y=Y_LEFT, shape=alt.Shape("s:N", scale=None))

fl_df = pd.DataFrame({"t": [f[0] for f in f_labels], "code": [f[1] for f in f_labels],
                      "depth": [f[2] for f in f_labels]})
fl = alt.Chart(fl_df).mark_text(align="left", baseline="middle", font=FONT, fontSize=46,
                                 color="#262626").encode(x=x1, y=Y_LEFT, text="t:N")

br_rows = []
for g, pts in enumerate([bracket_f11, bracket_f6]):
    for k, (d, c) in enumerate(pts):
        br_rows.append({"g": g, "i": k, "depth": d, "code": c})
br = alt.Chart(pd.DataFrame(br_rows)).mark_line(color="#4F81BD", strokeWidth=3).encode(
    x=x1, y=Y_LEFT, detail="g:N", order="i:Q")
brh_df = pd.DataFrame({"depth": [bracket_f11[-1][0], bracket_f6[-1][0]],
                       "code": [bracket_f11[-1][1] + 0.05, bracket_f6[-1][1] + 0.05]})
brh = alt.Chart(brh_df).mark_point(shape="triangle-right", filled=True, size=150, color="#4F81BD",
                                    opacity=1).encode(x=x1, y=Y_LEFT)

fac_grid_df = pd.DataFrame({"depth": DEPTH_TICKS[:-1], "code": 0, "code2": 7.05})
fac_grid = alt.Chart(fac_grid_df).mark_rule(color=GRID, strokeWidth=2).encode(x=x1, x2="code2:Q", y=Y_LEFT)

g1 = alt.layer(fac_grid, fac, br, brh, fl, units, apr, heads, apl, *titles(facies_titles, x1, Y_LEFT, "code"))

# ---------------- Panel 2: FMC & grain size ----------------
x_fmc_ax = X("v:Q", [0, 20], R2, x_axis("top", FMC_TICKS, TEAL))
x_fmc = X("v:Q", [0, 20], R2)
x_phi_ax = X("v:Q", [6, 0], R2, x_axis("bottom", PHI_TICKS, TEAL))
x_phi = X("v:Q", [6, 0], R2)

g2_grid = alt.layer(grid_rules(x_fmc, 0, 20.16, "v", DEPTH_TICKS), border_rules(x_fmc, [0, 20], "v"))
fmc_pts = alt.Chart(frame(fmc_points)).mark_circle(size=PT, color="#215C6E", opacity=1).encode(x=x_fmc_ax, y=Y_NONE)
phi_pts = alt.Chart(frame(grain_points)).mark_circle(size=PT, color="#D25858", opacity=1).encode(x=x_phi_ax, y=Y_NONE)
fmc_ln = alt.layer(
    alt.Chart(frame(fmc_line)).mark_line(color="#4F6228", strokeWidth=6.5).encode(x=x_fmc, y=Y_NONE, order="i:Q"),
    *titles(fmc_titles, x_fmc, Y_NONE, "v"))
phi_ln = alt.layer(
    alt.Chart(frame(grain_line)).mark_line(color="#B94A10", strokeWidth=6).encode(x=x_phi, y=Y_NONE, order="i:Q"),
    *titles(phi_titles, x_phi, Y_NONE, "v"))

# ---------------- Panel 3: MS & FD ----------------
x_ms_ax = X("v:Q", [200, 1400], R3, x_axis("top", MS_TICKS, RED, fmt="d"))
x_ms = X("v:Q", [200, 1400], R3)
x_fd_ax = X("v:Q", [0.14, 3.5], R3, x_axis("bottom", FD_TICKS, NAVY, fmt=".1f"))
x_fd = X("v:Q", [0.14, 3.5], R3)

g3_grid = alt.layer(grid_rules(x_ms, 200, 1400, "v", DEPTH_TICKS), border_rules(x_ms, [200], "v"))
ms_pts = alt.Chart(frame(ms_points)).mark_circle(size=PT, color="#C9504D", opacity=1).encode(x=x_ms_ax, y=Y_NONE)
fd_pts = alt.Chart(frame(fd_points)).mark_circle(size=PT, color="#1F4E8A", opacity=1).encode(x=x_fd_ax, y=Y_RIGHT)
ms_ln = alt.layer(
    alt.Chart(frame(ms_line)).mark_line(color="#D0605C", strokeWidth=5.5).encode(x=x_ms, y=Y_NONE, order="i:Q"),
    *titles(ms_titles, x_ms, Y_NONE, "v"))
fd_ln = alt.layer(
    alt.Chart(frame(fd_line)).mark_line(color="#1F3F7A", strokeWidth=5.5).encode(x=x_fd, y=Y_NONE, order="i:Q"),
    *titles(fd_titles, x_fd, Y_NONE, "v"))

chart = alt.layer(
    g1, g2_grid, fmc_pts, phi_pts, fmc_ln, phi_ln, g3_grid, ms_pts, fd_pts, ms_ln, fd_ln,
).resolve_scale(x="independent").resolve_axis(x="independent", y="independent").properties(
    width=W, height=H,
    autosize=alt.AutoSizeParams(type="none"),
    padding={"left": 187, "top": 239, "right": 82, "bottom": 207},
).configure_view(stroke="transparent")

chart.save("out.html", embed_options={"renderer": "svg", "actions": False})
